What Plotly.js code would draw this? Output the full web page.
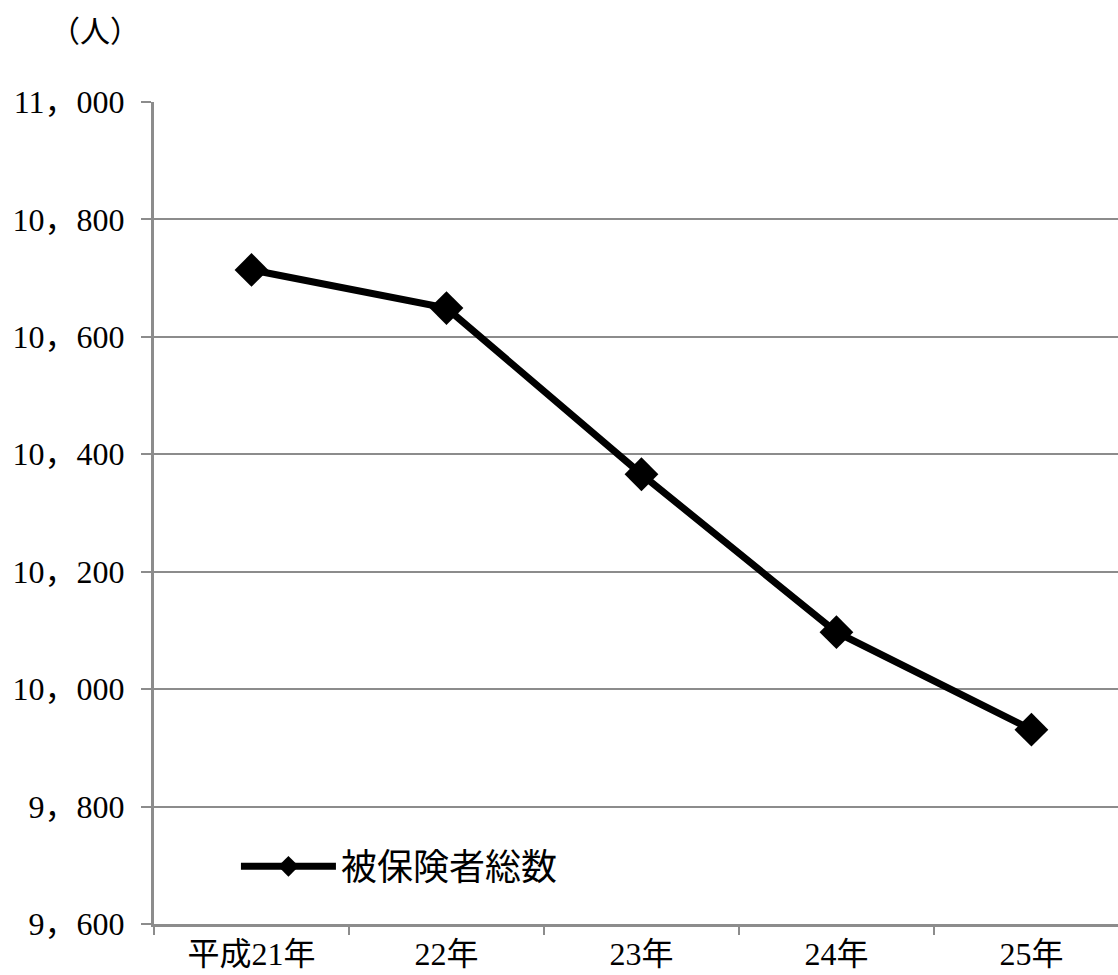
<!DOCTYPE html>
<html>
<head>
<meta charset="utf-8">
<script src="https://cdn.plot.ly/plotly-3.0.1.min.js"></script>
<style>html,body{margin:0;padding:0;background:#fff;}#chart{width:1118px;height:975px;}</style>
</head>
<body>
<div id="chart"></div>
<script>
const categories = ["平成21年", "22年", "23年", "24年", "25年"];
const seriesName = "被保険者総数";
const values = [10714, 10649, 10366, 10097, 9931];
const yTickVals = [9600, 9800, 10000, 10200, 10400, 10600, 10800, 11000];
const yTickText = ["9，600", "9，800", "10，000", "10，200", "10，400", "10，600", "10，800", "11，000"];
const unitLabel = "（人）";

const FONT = "'Liberation Serif', 'Noto Sans CJK JP', serif";
const GRID = "#8c8c8c";

const trace = {
  type: "scatter",
  mode: "lines+markers",
  x: categories,
  y: values,
  name: seriesName,
  line: {color: "#000", width: 7},
  marker: {symbol: "diamond", size: 26, color: "#000"},
  showlegend: true
};

const layout = {
  width: 1118, height: 975,
  margin: {l: 154, r: 0, t: 102, b: 51},
  paper_bgcolor: "#fff", plot_bgcolor: "#fff",
  font: {family: FONT, color: "#000", size: 28},
  showlegend: true,
  legend: {
    x: 0.085, y: 0.07, xanchor: "left", yanchor: "middle",
    bgcolor: "rgba(0,0,0,0)",
    font: {family: FONT, size: 36, color: "#000"},
    itemwidth: 95
  },
  xaxis: {
    type: "category",
    range: [-0.5, 4.444],
    tickson: "boundaries",
    ticks: "outside", ticklen: 8, tickwidth: 2, tickcolor: GRID,
    ticklabelstandoff: 0,
    showline: true, linecolor: GRID, linewidth: 3,
    showgrid: false, zeroline: false,
    tickfont: {family: FONT, size: 32, color: "#000"},
    fixedrange: true
  },
  yaxis: {
    range: [9600, 11000],
    tickvals: yTickVals, ticktext: yTickText,
    ticks: "outside", ticklen: 10, tickwidth: 2, tickcolor: GRID,
    ticklabelstandoff: 10,
    showline: true, linecolor: GRID, linewidth: 3,
    showgrid: true, gridcolor: GRID, gridwidth: 2,
    zeroline: false,
    tickfont: {family: FONT, size: 32, color: "#000"},
    fixedrange: true
  },
  annotations: [{
    text: unitLabel, xref: "paper", yref: "paper",
    x: -0.061, y: 1.0, xanchor: "center", yanchor: "bottom", yshift: 52,
    showarrow: false, font: {family: FONT, size: 30, color: "#000"}
  }]
};

Plotly.newPlot("chart", [trace], layout, {displayModeBar: false, staticPlot: true});
</script>
</body>
</html>
